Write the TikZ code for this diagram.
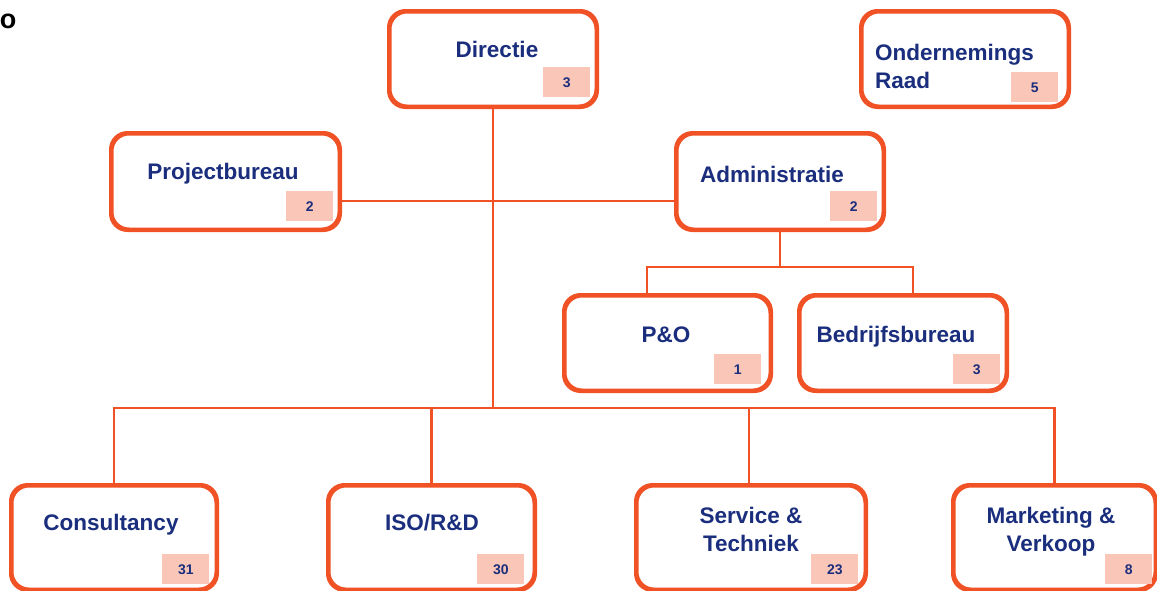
\documentclass[tikz,border=0pt]{standalone}
\usepackage{fontspec}
\setmainfont{Liberation Sans}
\definecolor{ora}{RGB}{240,82,38}
\definecolor{navy}{RGB}{26,46,125}
\definecolor{numfill}{RGB}{249,198,184}
\tikzset{
  unit/.style={draw=ora, line width=3pt, rounded corners=17pt, fill=white, inner sep=0pt, minimum width=#1},
  unit/.default=206pt,
  lbl/.style={text=navy, font=\fontsize{22.5}{28}\selectfont\bfseries, inner sep=0pt, align=center},
  num/.style={fill=numfill, text=navy, font=\fontsize{14}{16}\selectfont\bfseries, minimum width=47pt, minimum height=30pt, inner sep=0pt},
  conn/.style={draw=ora, line width=2.5pt}
}
\begin{document}
\begin{tikzpicture}[x=1pt,y=-1pt]
\useasboundingbox (0,0) rectangle (1157,590);
\clip (0,0) rectangle (1157,590);
\coordinate (bus) at (494,408);
\coordinate (hy) at (0,201);
\coordinate (sj) at (780,267);

\node[unit, minimum height=94pt] (dir) at (493,59) {};
\node[unit=227pt, minimum height=95pt] (pb) at (225.5,181.5) {};
\node[unit, minimum height=95pt] (adm) at (780,181.5) {};
\node[unit=205pt, minimum height=94pt] (po) at (667.5,343) {};
\node[unit, minimum height=94pt] (bb) at (903,343) {};
\node[unit, minimum height=94pt] (or) at (965,59) {};
\node[unit=204pt, minimum height=103pt] (cons) at (114,537.5) {};
\node[unit=205pt, minimum height=103pt] (iso) at (431.5,537.5) {};
\node[unit=228pt, minimum height=103pt] (st) at (751,537.5) {};
\node[unit=201pt, minimum height=103pt] (mv) at (1054.5,537.5) {};

\draw[conn] (dir.south) -- (dir.south |- bus);
\draw[conn] (pb.east |- hy) -- (adm.west |- hy);
\draw[conn] (adm.south) -- (sj);
\draw[conn] ([xshift=-20.5pt]po.north) |- (sj) -| ([xshift=10pt]bb.north);
\draw[conn] (cons.north) |- (bus) -| (mv.north);
\draw[conn] (iso.north) -- (iso.north |- bus);
\draw[conn] ([xshift=-2pt]st.north) -- ([xshift=-2pt]st.north |- bus);

\foreach \n in {dir,pb,adm,po,bb,or,cons,iso,st,mv}{
  \draw[draw=ora, line width=3pt, rounded corners=17pt] (\n.north west) rectangle (\n.south east);
}

\node[lbl] (tdir) at (497,49) {Directie};
\node[lbl, align=left, anchor=west] (tor) at (875,66) {Ondernemings\\Raad};
\node[lbl] (tpb) at (223,174) {Projectbureau};
\node[lbl] (tadm) at (772,174) {Administratie};
\node[lbl] (tpo) at (666,335) {P\&O};
\node[lbl] (tbb) at (896,337) {Bedrijfsbureau};
\node[lbl] (tcons) at (111,525) {Consultancy};
\node[lbl] (tiso) at (432,523) {ISO/R\&D};
\node[lbl] (tst) at (751,529) {Service \&\\Techniek};
\node[lbl] (tmv) at (1051,532) {Marketing \&\\Verkoop};

\node[num, anchor=south east] (ndir) at ([xshift=-7pt,yshift=10pt]dir.south east) {3};
\node[num, anchor=south east] (nor) at ([xshift=-11pt,yshift=5pt]or.south east) {5};
\node[num, anchor=south east] (npb) at ([xshift=-7pt,yshift=9pt]pb.south east) {2};
\node[num, anchor=south east] (nadm) at ([xshift=-7pt,yshift=9pt]adm.south east) {2};
\node[num, anchor=south east] (npo) at ([xshift=-10pt,yshift=7pt]po.south east) {1};
\node[num, anchor=south east] (nbb) at ([xshift=-7pt,yshift=7pt]bb.south east) {3};
\node[num, anchor=south east] (ncons) at ([xshift=-8pt,yshift=6pt]cons.south east) {31};
\node[num, anchor=south east] (niso) at ([xshift=-11pt,yshift=6pt]iso.south east) {30};
\node[num, anchor=south east] (nst) at ([xshift=-8pt,yshift=6pt]st.south east) {23};
\node[num, anchor=south east] (nmv) at ([xshift=-4pt,yshift=6pt]mv.south east) {8};

\node[text=black, font=\fontsize{27}{30}\selectfont\bfseries, inner sep=0pt] (og) at (8,21) {o};
\end{tikzpicture}
\end{document}
